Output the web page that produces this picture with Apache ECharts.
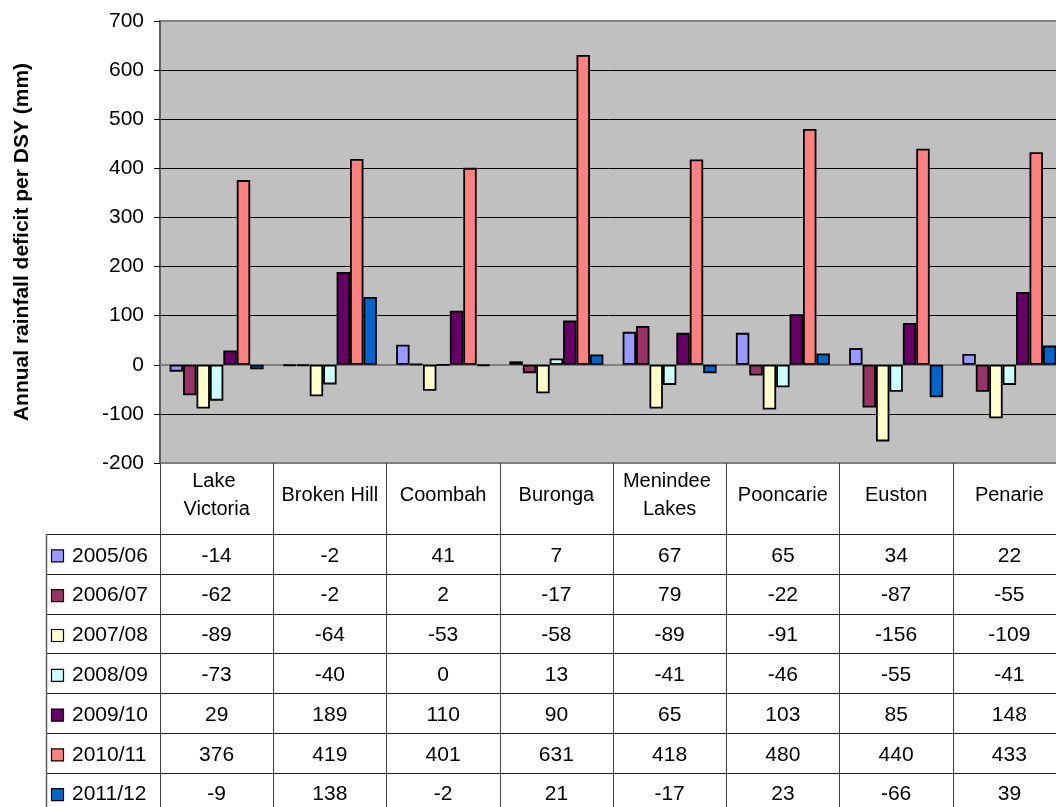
<!DOCTYPE html>
<html>
<head>
<meta charset="utf-8">
<script src="https://cdn.jsdelivr.net/npm/echarts@6/dist/echarts.min.js"></script>
<style>
  html, body { margin: 0; padding: 0; background: #ffffff; }
  #chart { width: 1056px; height: 807px; }
</style>
</head>
<body>
<div id="chart"></div>
<script>
// Rainfall deficit per drought sequence year, by station
const stations = ['Lake Victoria', 'Broken Hill', 'Coombah', 'Buronga', 'Menindee Lakes', 'Pooncarie', 'Euston', 'Penarie'];
const seasons = ['2005/06', '2006/07', '2007/08', '2008/09', '2009/10', '2010/11', '2011/12'];
const seasonColours = ['#9999FF', '#993366', '#FFFFCC', '#CCFFFF', '#660066', '#FF8080', '#0066CC'];

const deficit200506 = [-14, -2, 41, 7, 67, 65, 34, 22];
const deficit200607 = [-62, -2, 2, -17, 79, -22, -87, -55];
const deficit200708 = [-89, -64, -53, -58, -89, -91, -156, -109];
const deficit200809 = [-73, -40, 0, 13, -41, -46, -55, -41];
const deficit200910 = [29, 189, 110, 90, 65, 103, 85, 148];
const deficit201011 = [376, 419, 401, 631, 418, 480, 440, 433];
const deficit201112 = [-9, 138, -2, 21, -17, 23, -66, 39];

const yMin = -200, yMax = 700, yStep = 100;

const seriesValues = [deficit200506, deficit200607, deficit200708, deficit200809, deficit200910, deficit201011, deficit201112];

const FONT = '"Liberation Sans", Arial, sans-serif';

const chart = echarts.init(document.getElementById('chart'), null, { renderer: 'canvas' });

const series = seasons.map((name, i) => ({
  name: name,
  type: 'bar',
  data: seriesValues[i],
  barGap: '0%',
  barCategoryGap: '17%',
  itemStyle: { color: seasonColours[i], borderColor: '#000000', borderWidth: 1.8 },
  emphasis: { disabled: true }
}));

chart.setOption({
  animation: false,
  backgroundColor: '#ffffff',
  textStyle: { fontFamily: FONT },
  grid: {
    left: 160, width: 906, top: 21, height: 442,
    outerBoundsMode: 'none',
    containLabel: false,
    show: true, backgroundColor: '#C0C0C0', borderColor: '#808080', borderWidth: 2
  },
  xAxis: [{
    type: 'category',
    data: stations,
    position: 'bottom',
    axisLine: { onZero: false, show: true, lineStyle: { color: '#808080', width: 2 } },
    axisTick: { show: true, interval: 0, length: 344, lineStyle: { color: '#404040', width: 1 } },
    axisLabel: {
      interval: 0, margin: 32, fontSize: 20, color: '#000', fontFamily: FONT,
      verticalAlign: 'middle', lineHeight: 28, width: 104, overflow: 'break'
    },
    splitLine: { show: false }
  }, {
    // horizontal axis line crossing at zero
    type: 'category',
    data: stations,
    axisLine: { onZero: true, show: true, lineStyle: { color: '#808080', width: 2 } },
    axisTick: { show: false },
    axisLabel: { show: false },
    splitLine: { show: false }
  }],
  yAxis: {
    type: 'value',
    min: yMin, max: yMax, interval: yStep,
    name: 'Annual rainfall deficit per DSY (mm)',
    nameLocation: 'middle',
    nameRotate: 90,
    nameGap: 127,
    nameTextStyle: { fontSize: 21, fontWeight: 'bold', color: '#000', fontFamily: FONT },
    axisLine: { show: true, lineStyle: { color: '#555555', width: 1.5 } },
    axisTick: { show: true, length: 6, lineStyle: { color: '#000' } },
    axisLabel: { fontSize: 21, color: '#000', margin: 16, fontFamily: FONT },
    splitLine: { show: true, showMinLine: false, showMaxLine: false, lineStyle: { color: '#000000', width: 1 } }
  },
  series: series
});

// Data table beneath the plot: one row per season, one column per station
const tableTop = 534, rowH = 39.8, tableLeft = 46, pageRight = 1056, pageBottom = 807;
const graphics = [];
for (let k = 0; k <= seasons.length; k++) {
  const y = Math.round(tableTop + k * rowH) + 0.5;
  if (y > pageBottom) break;
  graphics.push({ type: 'line', shape: { x1: tableLeft, y1: y, x2: pageRight, y2: y }, style: { stroke: '#202020', lineWidth: 1 } });
}
graphics.push({ type: 'line', shape: { x1: tableLeft + 0.5, y1: tableTop, x2: tableLeft + 0.5, y2: pageBottom }, style: { stroke: '#606060', lineWidth: 1.5 } });

seasons.forEach((name, r) => {
  const cy = tableTop + (r + 0.5) * rowH + 2;
  graphics.push({ type: 'rect', shape: { x: 51.5, y: cy - 6, width: 12, height: 12 }, style: { fill: seasonColours[r], stroke: '#000', lineWidth: 1.2 } });
  graphics.push({ type: 'text', x: 72, y: cy, style: { text: name, font: '21px ' + FONT, fill: '#000', textAlign: 'left', textVerticalAlign: 'middle' } });
  stations.forEach((st, c) => {
    const cx = chart.convertToPixel({ xAxisIndex: 0 }, c);
    graphics.push({ type: 'text', x: cx, y: cy, style: { text: String(seriesValues[r][c]), font: '21px ' + FONT, fill: '#000', textAlign: 'center', textVerticalAlign: 'middle' } });
  });
});

chart.setOption({ graphic: graphics });
</script>
</body>
</html>
